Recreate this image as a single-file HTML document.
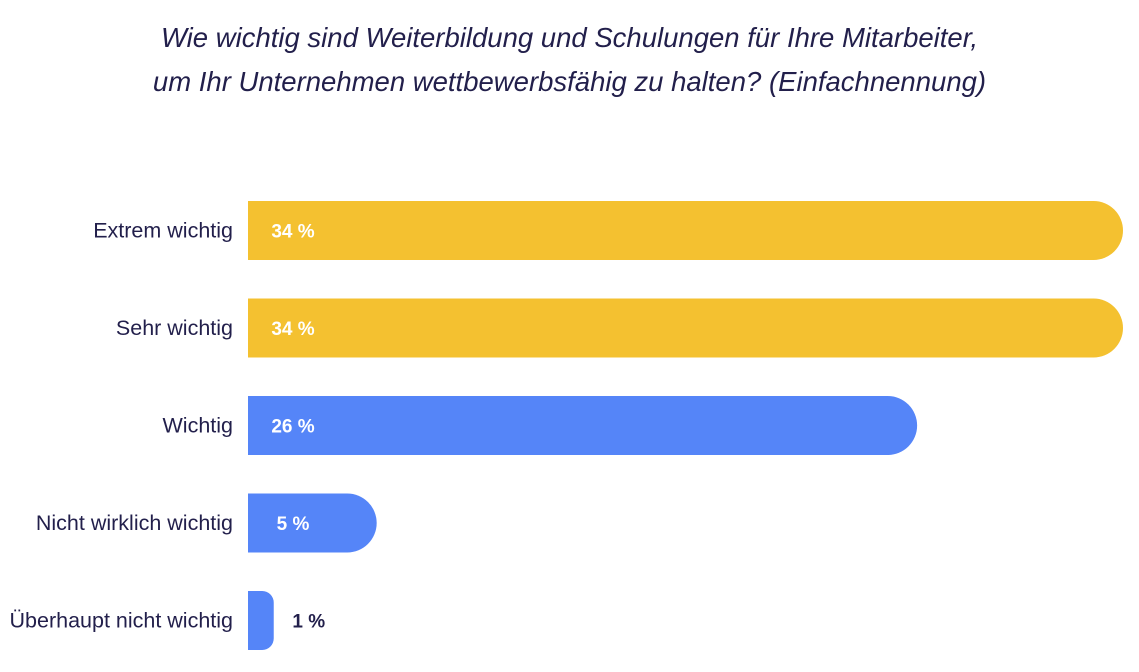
<!DOCTYPE html>
<html><head><meta charset="utf-8">
<style>
html,body{margin:0;padding:0;background:#fff;}
body{width:1139px;height:672px;position:relative;overflow:hidden;font-family:"Liberation Sans",sans-serif;color:#221f4b;}
#title{position:absolute;left:0;width:1139px;top:16px;text-align:center;font-style:italic;font-size:27.5px;line-height:44px;color:#221f4b;}
svg{position:absolute;left:0;top:0;}
</style></head>
<body>
<div id="title">Wie wichtig sind Weiterbildung und Schulungen für Ihre Mitarbeiter,<br>um Ihr Unternehmen wettbewerbsfähig zu halten? (Einfachnennung)</div>
<svg id="chart" width="1139" height="672"></svg>
<script>
const categories=["Extrem wichtig","Sehr wichtig","Wichtig","Nicht wirklich wichtig","Überhaupt nicht wichtig"];
const values=[34,34,26,5,1];
const labels=["34 %","34 %","26 %","5 %","1 %"];
const colors=["#f4c130","#f4c130","#5585f8","#5585f8","#5585f8"];
const svg=document.getElementById('chart');
const NS="http://www.w3.org/2000/svg";
const x0=248,pxPer=875/34,top0=201,step=97.5,bh=59;
function xs(v){return v*pxPer;}
function ys(i){return top0+i*step;}
categories.forEach((c,i)=>{
  const w=xs(values[i]),y=ys(i);
  const r=Math.min(bh/2,w*0.45);
  const p=document.createElementNS(NS,'path');
  p.setAttribute('d',`M${x0},${y}H${x0+w-r}A${r},${r} 0 0 1 ${x0+w},${y+r}V${y+bh-r}A${r},${r} 0 0 1 ${x0+w-r},${y+bh}H${x0}Z`);
  p.setAttribute('fill',colors[i]);
  
  
  svg.appendChild(p);
  const t=document.createElementNS(NS,'text');
  t.setAttribute('x',x0-15);t.setAttribute('y',y+bh/2+7);
  t.setAttribute('text-anchor','end');t.setAttribute('font-size','21.5');t.setAttribute('fill','#221f4b');
  t.setAttribute('font-family','Liberation Sans, sans-serif');
  t.textContent=c;
  
  
  svg.appendChild(t);
  const v=document.createElementNS(NS,'text');
  const inside=w>60;
  v.setAttribute('x',inside?x0+45:x0+w+35);v.setAttribute('y',y+bh/2+7);
  v.setAttribute('text-anchor','middle');
  v.setAttribute('font-size','19');v.setAttribute('font-weight','bold');
  v.setAttribute('fill',inside?'#ffffff':'#221f4b');
  v.setAttribute('font-family','Liberation Sans, sans-serif');
  v.textContent=labels[i];
  
  
  svg.appendChild(v);
});
</script>
</body></html>
